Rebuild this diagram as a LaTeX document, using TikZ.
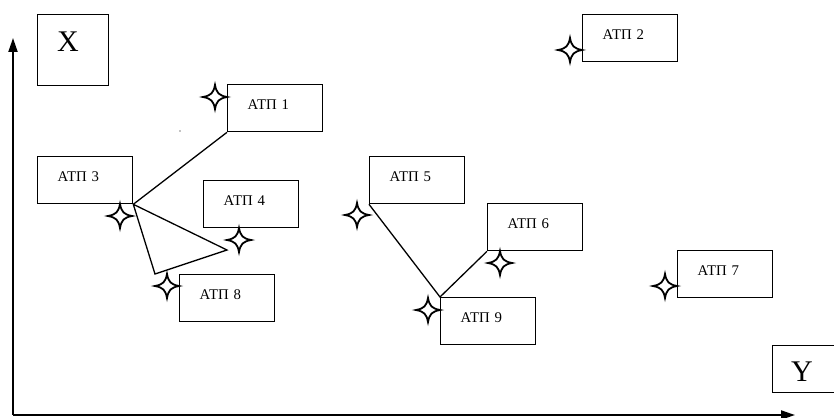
\documentclass[tikz,border=0pt]{standalone}
\usepackage{fontspec}
\setmainfont{Liberation Serif}
\usetikzlibrary{arrows.meta}

\tikzset{
  atpbox/.style={draw, line width=1.3pt, anchor=north west, inner xsep=20pt,
    inner ysep=0pt, text width=55pt, align=left, minimum height=47pt,
    text depth=8pt, font=\fontsize{14.8}{16}\selectfont},
  axisbox/.style={draw, line width=1.3pt, anchor=north west, inner sep=0pt,
    minimum width=71pt},
  axislabel/.style={inner sep=0pt, font=\fontsize{30}{32}\selectfont},
  link/.style={line width=1.3pt},
  axis/.style={line width=2pt, -{Triangle[length=14pt,width=9pt]}},
  spark/.pic={
    \draw[line width=1.8pt, fill=white, line join=miter]
      (12,0) .. controls (4,1.5) and (1.5,4) .. (0,12)
      .. controls (-1.5,4) and (-4,1.5) .. (-12,0)
      .. controls (-4,-1.5) and (-1.5,-4) .. (0,-12)
      .. controls (1.5,-4) and (4,-1.5) .. (12,0) -- cycle;
  }
}

\begin{document}
\begin{tikzpicture}[x=1pt, y=-1pt]
  \useasboundingbox (0,0) rectangle (834,417);
  \clip (0,0) rectangle (834,417);

  % coordinate axes
  \coordinate (origin) at (13,415);
  \coordinate (ytip) at (13,38);
  \coordinate (xtip) at (795,415);
  \draw[axis] (origin) -- (ytip);
  \draw[axis] (origin) -- (xtip);

  % axis labels
  \node[axisbox, minimum height=71pt] (xbox) at (37,14) {};
  \node[axislabel] (xlab) at (68,42) {X};
  \node[axisbox, minimum height=47pt] (ybox) at (772,345) {};
  \node[axislabel] (ylab) at (802,372) {Y};

  % transport enterprises
  \node[atpbox] (b1) at (227,84)  {АТП 1};
  \node[atpbox] (b2) at (582,14)  {АТП 2};
  \node[atpbox] (b3) at (37,156)  {АТП 3};
  \node[atpbox] (b4) at (203,180) {АТП 4};
  \node[atpbox] (b5) at (369,156) {АТП 5};
  \node[atpbox] (b6) at (487,203) {АТП 6};
  \node[atpbox] (b7) at (677,250) {АТП 7};
  \node[atpbox] (b8) at (179,274) {АТП 8};
  \node[atpbox] (b9) at (440,297) {АТП 9};

  % routes
  \coordinate (t1) at (227,250);
  \coordinate (t2) at (155,274);
  \draw[link] (b3.south east) -- (b1.south west);
  \draw[link, line join=miter] (b3.south east) -- (t1) -- (t2) -- cycle;
  \draw[link] (b5.south west) -- (b9.north west) -- (b6.south west);

  \fill (180,131) circle (0.7pt);

  % location markers
  \pic at (215,97)  {spark};
  \pic at (570,50)  {spark};
  \pic at (120,216) {spark};
  \pic at (239,240) {spark};
  \pic at (167,286) {spark};
  \pic at (357,215) {spark};
  \pic at (500,263) {spark};
  \pic at (428,310) {spark};
  \pic at (665,286) {spark};
\end{tikzpicture}
\end{document}
